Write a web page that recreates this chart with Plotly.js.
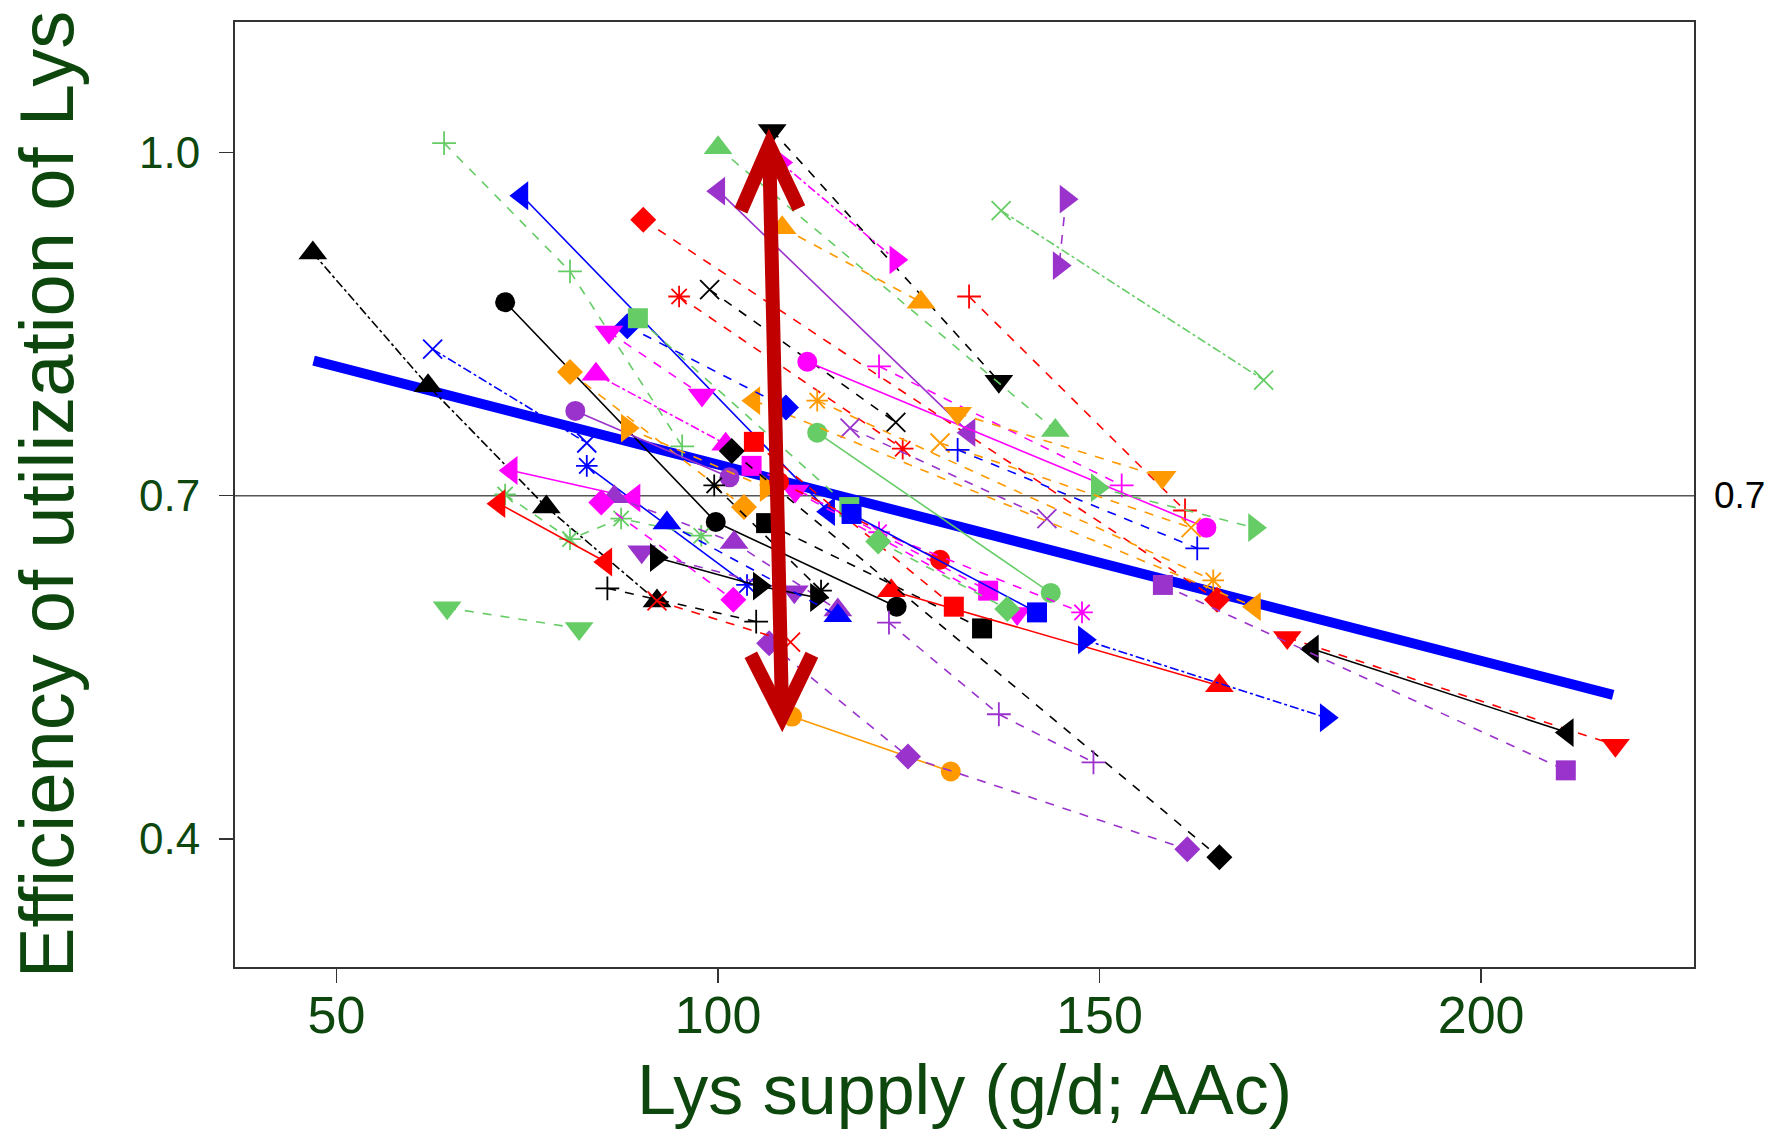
<!DOCTYPE html>
<html><head><meta charset="utf-8">
<script src="https://cdn.plot.ly/plotly-3.0.1.min.js"></script>
<style>html,body{margin:0;padding:0;background:#fff}#chart{width:1776px;height:1137px}</style>
</head><body><div id="chart"></div>
<script>
// ---- data ----
const lysSupply = [
  [64.1,80.6,95.3],[74.3,114.5],[90.2,165.4],[46.9,62.0,77.5,92.0],[72.1,99.7,123.4],
  [62.6,82.8],[107.1,136.8],[100.0,144.2],[100.1,132.9],[108.2,123.3],
  [108.4,126.6],[137.1,171.5],[145.6,144.7],[94.9,124.2],[98.9,123.3],
  [132.9,161.2],[111.7,164.0],[121.1,152.9],[131.4,158.2],[149.7,170.3],
  [113.0,143.6],[113.0,164.9],[117.3,143.1],[129.1,162.0],[131.4,162.8],
  [104.7,170.3],[88.1,108.9],[85.7,97.9],[110.1,139.2],[89.5,117.2],
  [80.6,103.4],[84.0,101.0],[81.3,101.5],[88.1,106.3],[82.8,103.8],
  [72.9,89.0],[72.1,80.6,87.3,97.8],[71.3,85.3],[85.5,105.0],[64.5,81.8],
  [86.4,102.1,115.7],[90.0,110.0],[91.9,105.4,112.9],[99.5,113.5],[106.3,134.6],
  [104.7,130.9],[122.7,165.7],[104.4,135.4],[101.8,165.7],[108.0,129.1],
  [121.1,147.7],[117.5,141.8],[93.3,115.7],[148.0,179.7],[174.6,217.6],
  [177.9,211.3],[158.3,211.1],[109.7,130.5],[106.7,124.9,161.5],[122.4,136.8,149.2],
  [84.7,102.0],[92.0,109.5],[121.0,137.9]
];
const efficiency = [
  [1.008,0.896,0.743],[0.962,0.686],[0.941,0.609],[0.912,0.796,0.690,0.608],[0.869,0.677,0.603],
  [0.828,0.746],[1.019,0.800],[1.004,0.757],[0.966,0.755],[0.991,0.906],
  [0.934,0.869],[0.949,0.801],[0.959,0.901],[0.874,0.741],[0.880,0.764],
  [0.874,0.687],[0.817,0.672],[0.813,0.709],[0.772,0.716],[0.707,0.672],
  [0.755,0.615],[0.783,0.626],[0.759,0.680],[0.746,0.672],[0.740,0.654],
  [0.783,0.603],[0.848,0.777],[0.843,0.788],[0.704,0.597],[0.855,0.690],
  [0.808,0.690],[0.806,0.745],[0.774,0.716],[0.759,0.707],[0.726,0.622],
  [0.722,0.698],[0.701,0.662,0.680,0.665],[0.693,0.642],[0.619,0.590],[0.602,0.584],
  [0.699,0.659,0.600],[0.651,0.616],[0.646,0.621,0.611],[0.709,0.617],[0.676,0.584],
  [0.747,0.603],[0.617,0.534],[0.726,0.617],[0.739,0.384],[0.712,0.644],
  [0.668,0.598],[0.684,0.598],[0.676,0.595],[0.574,0.506],[0.576,0.482],
  [0.566,0.493],[0.622,0.460],[0.507,0.459],[0.571,0.472,0.391],[0.589,0.509,0.467],
  [0.694,0.609],[0.608,0.572],[0.660,0.601]
];
// pooled regression line (end points)
const fitX = [47.0, 217.3];
const fitY = [0.818, 0.526];
const refLevel = 0.7;
// arrow annotation (data coordinates)
const arrowTop = [106.7, 1.006];
const arrowBottom = [108.4, 0.507];
const arrowTopArms = [[103.0, 0.949], [110.6, 0.951]];
const arrowBottomArms = [[104.3, 0.561], [112.3, 0.561]];

// ---- styles ----
const K='#000000',R='#ff0000',G='#66cc66',B='#0000ff',M='#ff00ff',O='#ff9900',P='#9933cc';
const seriesColor = [
  G,B,R,K,K, B,K,G,P,M, O,G,P,R,K, R,M,M,O,G, G,O,P,O,B,
  O,B,M,M,G, O,M,P,O,B, M,G,R,K,G, P,P,K,K,K, R,R,M,K,R,
  M,B,B,B,R, K,P,O,P,P, M,R,G
];
const seriesSymbol = [
  'cr','tl','di','tu','ci', 'x','td','tu','tl','tr', 'tu','x','tr','as','x', 'cr','ci','cr','td','tr',
  'ci','as','x','x','cr', 'tl','di','td','td','sq', 'di','tu','ci','tr','as', 'tl','as','tl','cr','td',
  'tu','td','tr','as','sq', 'sq','tu','sq','di','ci', 'as','sq','tu','tr','td', 'tl','sq','ci','di','cr',
  'di','x','di'
];
const seriesDash = [
  'dash','solid','dash','dashdot','solid', 'dashdot','dash','dash','solid','dashdot', 'dash','dashdot','dash','dash','dash',
  'dash','solid','dash','dash','dash', 'solid','dash','dash','dash','dash', 'dash','dash','dash','dash','dash',
  'dash','dashdot','solid','dash','solid', 'solid','dash','solid','dash','dash', 'dash','dash','solid','dash','dash',
  'dash','solid','dash','dash','dash', 'dash','solid','dash','dashdot','dash', 'solid','dash','solid','dash','dash',
  'dash','dash','dash'
];
const symbolMap = {tu:'triangle-up',td:'triangle-down',tl:'triangle-left',tr:'triangle-right',
  ci:'circle',sq:'square',di:'diamond',x:'x-thin-open',cr:'cross-thin-open',as:'asterisk-open'};
const symbolSize = {tu:25,td:25,tl:25,tr:25,ci:20,sq:20,di:20,x:19,cr:17,as:18};

const traces = [];
traces.push({x:fitX, y:fitY, mode:'lines', line:{color:'#0000ff', width:10}, hoverinfo:'skip', showlegend:false});
for (let i = 0; i < lysSupply.length; i++) {
  const s = seriesSymbol[i];
  const thin = (s==='x'||s==='cr'||s==='as');
  traces.push({
    x: lysSupply[i], y: efficiency[i], mode:'lines+markers', showlegend:false,
    line:{color:seriesColor[i], width:1.6, dash:seriesDash[i]},
    marker:{symbol:symbolMap[s], size:symbolSize[s], color:seriesColor[i],
      line:{color:seriesColor[i], width: thin ? 1.8 : 0}}
  });
}

const darkRed = '#c00000';
const shapes = [
  {type:'line', xref:'paper', x0:0, x1:1, yref:'y', y0:refLevel, y1:refLevel, line:{color:'#555555', width:1.5}, layer:'below'},
  {type:'path', path:`M ${arrowTop[0]},${arrowTop[1]} L ${arrowBottom[0]},${arrowBottom[1]}`, line:{color:darkRed, width:14}, layer:'above'},
  {type:'path', path:`M ${arrowTopArms[0][0]},${arrowTopArms[0][1]} L ${arrowTop[0]},${arrowTop[1]} L ${arrowTopArms[1][0]},${arrowTopArms[1][1]}`, line:{color:darkRed, width:14}, layer:'above'},
  {type:'path', path:`M ${arrowBottomArms[0][0]},${arrowBottomArms[0][1]} L ${arrowBottom[0]},${arrowBottom[1]} L ${arrowBottomArms[1][0]},${arrowBottomArms[1][1]}`, line:{color:darkRed, width:14}, layer:'above'}
];

const green = '#0d470d';
const layout = {
  width:1776, height:1137,
  margin:{l:235, r:82, t:22, b:170},
  paper_bgcolor:'#ffffff', plot_bgcolor:'#ffffff',
  showlegend:false,
  xaxis:{range:[36.7,227.9], tickvals:[50,100,150,200], ticktext:['50','100','150','200'],
    ticks:'outside', ticklen:14, tickwidth:1.5, tickcolor:'#333',
    showline:true, mirror:true, linecolor:'#333', linewidth:2, showgrid:false, zeroline:false,
    tickfont:{family:'Liberation Sans Narrow, Arial Narrow, sans-serif', size:52, color:green},
    ticklabelstandoff:-12,
    title:{text:'Lys supply (g/d; AAc)', font:{family:'Liberation Sans, Arial, sans-serif', size:70, color:green}, standoff:22},
    automargin:false},
  yaxis:{range:[0.2882,1.1138], tickvals:[0.4,0.7,1.0], ticktext:['0.4','0.7','1.0'],
    ticks:'outside', ticklen:14, tickwidth:1.5, tickcolor:'#333',
    showline:true, mirror:true, linecolor:'#333', linewidth:2, showgrid:false, zeroline:false,
    tickfont:{family:'Liberation Sans, Arial, sans-serif', size:44, color:green},
    ticklabelstandoff:10,
    title:{text:'Efficiency of utilization of Lys', font:{family:'Liberation Sans, Arial, sans-serif', size:76, color:green}, standoff:40},
    automargin:false},
  shapes:shapes,
  annotations:[{xref:'paper', yref:'y', x:1.0, y:refLevel, xanchor:'left', yanchor:'middle', xshift:18,
    text:'0.7', showarrow:false, font:{family:'Liberation Sans, Arial, sans-serif', size:37, color:'#000'}}]
};
Plotly.newPlot('chart', traces, layout, {displayModeBar:false, staticPlot:true});
</script>
</body></html>
